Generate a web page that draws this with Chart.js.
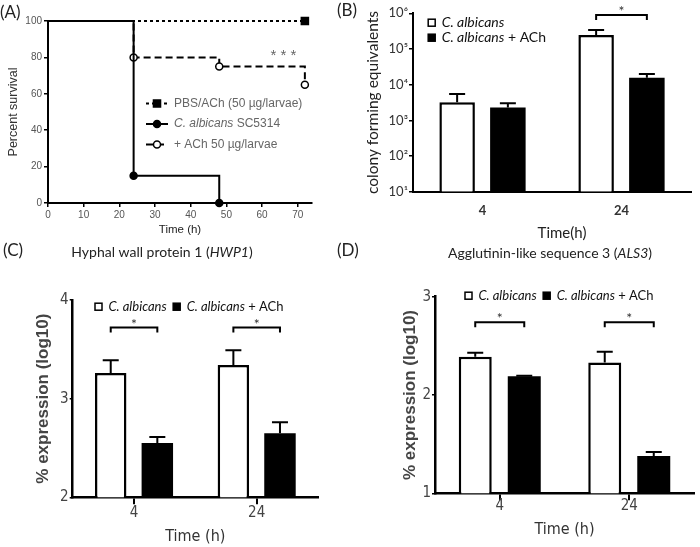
<!DOCTYPE html>
<html>
<head>
<meta charset="utf-8">
<script src="https://cdn.jsdelivr.net/npm/chart.js@4"></script>
<style>
  body { margin: 0; background: #fff; }
  #wrap { position: relative; width: 700px; height: 547px; overflow: hidden; }
  #wrap canvas { position: absolute; }
</style>
</head>
<body>
<div id="wrap">
  <canvas id="survivalChart" width="345" height="250" style="left:0;top:0"></canvas>
  <canvas id="cfeChart" width="370" height="250" style="left:330px;top:0"></canvas>
  <canvas id="hwp1Chart" width="345" height="312" style="left:0;top:235px"></canvas>
  <canvas id="als3Chart" width="370" height="312" style="left:330px;top:235px"></canvas>
</div>
<script>
// (A) survival curves
var pbsTimes = [0, 72];
var pbsSurvival = [100, 100];
var candTimes = [0, 24, 48];
var candSurvival = [100, 15, 0];
var achTimes = [0, 24, 48, 72];
var achSurvival = [100, 80, 75, 65];
var survivalLabels = ['PBS/ACh (50 \u00b5g/larvae)', 'C. albicans SC5314', '+ ACh 50 \u00b5g/larvae'];

// (B)-(D) bars
var timeLabels = ['4', '24'];
var seriesLabels = ['C. albicans', 'C. albicans + ACh'];

var cfeCandida = [3200, 247000];
var cfeCandidaErr = [2300, 93000];
var cfeAch = [2300, 15700];
var cfeAchErr = [700, 4200];
var cfeTicks = [1e1, 1e2, 1e3, 1e4, 1e5, 1e6];

var hwp1Candida = [3.26, 3.34];
var hwp1CandidaErr = [0.13, 0.15];
var hwp1Ach = [2.55, 2.65];
var hwp1AchErr = [0.06, 0.11];

var als3Candida = [2.39, 2.33];
var als3CandidaErr = [0.04, 0.11];
var als3Ach = [2.19, 1.38];
var als3AchErr = [0.005, 0.04];

var sans = "'Liberation Sans', Arial, sans-serif";
var calib = "Lato, 'Open Sans', sans-serif";
var narrow = "'Liberation Sans Narrow', 'DejaVu Sans Condensed', sans-serif";
var sup = ['\u2070', '\u00b9', '\u00b2', '\u00b3', '\u2074', '\u2075', '\u2076'];

function toXY(xs, ys) {
  return xs.map(function(x, i) { return { x: x, y: ys[i] }; });
}

function labelParts(label) {
  var sp = 'C. albicans';
  if (label.indexOf(sp) === 0) return [{ t: sp, italic: true }, { t: label.slice(sp.length) }];
  return [{ t: label }];
}

function drawRich(ctx, parts, x, y, font, color, align) {
  ctx.save();
  ctx.fillStyle = color;
  ctx.textBaseline = 'middle';
  ctx.textAlign = 'left';
  var total = 0;
  parts.forEach(function(p) {
    ctx.font = (p.italic ? 'italic ' : '') + (font.weight || 'normal') + ' ' + font.size + 'px ' + font.family;
    total += ctx.measureText(p.t).width;
  });
  var cx = align === 'center' ? x - total / 2 : (align === 'right' ? x - total : x);
  parts.forEach(function(p) {
    ctx.font = (p.italic ? 'italic ' : '') + (font.weight || 'normal') + ' ' + font.size + 'px ' + font.family;
    ctx.fillText(p.t, cx, y);
    cx += ctx.measureText(p.t).width;
  });
  ctx.restore();
  return cx;
}

// plain text notes: panel letters, titles
function panelText(items) {
  return {
    id: 'panelText',
    afterDraw: function(chart) {
      items.forEach(function(it) {
        drawRich(chart.ctx, it.parts, it.x, it.y, it.font, it.color || '#222', it.align);
      });
    }
  };
}

function errorBars(cap) {
  return {
    id: 'errorBars',
    afterDatasetsDraw: function(chart) {
      var ctx = chart.ctx, yScale = chart.scales.y;
      chart.data.datasets.forEach(function(ds, i) {
        if (!ds.errors) return;
        chart.getDatasetMeta(i).data.forEach(function(bar, j) {
          if (!ds.errors[j]) return;
          var top = yScale.getPixelForValue(ds.data[j] + ds.errors[j]);
          ctx.save();
          ctx.strokeStyle = '#000';
          ctx.lineWidth = 2;
          ctx.beginPath();
          ctx.moveTo(bar.x, bar.y);
          ctx.lineTo(bar.x, top);
          ctx.moveTo(bar.x - cap, top);
          ctx.lineTo(bar.x + cap, top);
          ctx.stroke();
          ctx.restore();
        });
      });
    }
  };
}

function sigBrackets(level, groups) {
  return {
    id: 'sigBrackets',
    afterDatasetsDraw: function(chart) {
      var ctx = chart.ctx;
      var y = chart.scales.y.getPixelForValue(level);
      var a = chart.getDatasetMeta(0).data, b = chart.getDatasetMeta(1).data;
      groups.forEach(function(j) {
        ctx.save();
        ctx.strokeStyle = '#000';
        ctx.lineWidth = 2;
        ctx.beginPath();
        ctx.moveTo(a[j].x, y + 5);
        ctx.lineTo(a[j].x, y);
        ctx.lineTo(b[j].x, y);
        ctx.lineTo(b[j].x, y + 5);
        ctx.stroke();
        ctx.fillStyle = '#333';
        ctx.font = '14px ' + calib;
        ctx.textAlign = 'center';
        ctx.textBaseline = 'alphabetic';
        ctx.fillText('*', (a[j].x + b[j].x) / 2, y + 1);
        ctx.restore();
      });
    }
  };
}

// legend boxes for the bar panels; vertical list or one row
function barLegend(x, y, font, rowGap) {
  return {
    id: 'barLegend',
    afterDraw: function(chart) {
      var ctx = chart.ctx, cx = x, cy = y;
      chart.data.datasets.forEach(function(ds) {
        ctx.save();
        ctx.fillStyle = ds.backgroundColor;
        ctx.fillRect(cx - 3.5, cy - 3.5, 7, 7);
        ctx.strokeStyle = '#000';
        ctx.lineWidth = 1.5;
        ctx.strokeRect(cx - 3.5, cy - 3.5, 7, 7);
        ctx.restore();
        var end = drawRich(ctx, labelParts(ds.label), cx + 10, cy, font, '#111', 'left');
        if (rowGap) cy += rowGap; else cx = end + 10;
      });
    }
  };
}

function survivalLegend(x, y, gap) {
  return {
    id: 'survivalLegend',
    afterDraw: function(chart) {
      var ctx = chart.ctx;
      chart.data.datasets.forEach(function(ds, i) {
        var ly = y + i * gap;
        ctx.save();
        ctx.strokeStyle = '#000';
        ctx.lineWidth = 2;
        ctx.setLineDash(ds.borderDash || []);
        ctx.beginPath();
        ctx.moveTo(x, ly);
        ctx.lineTo(x + 22, ly);
        ctx.stroke();
        ctx.setLineDash([]);
        ctx.fillStyle = ds.pointBackgroundColor;
        ctx.lineWidth = 1.5;
        Chart.helpers.drawPoint(ctx, { pointStyle: ds.pointStyle, radius: ds.pointStyle === 'rect' ? 5 : 3.5, rotation: 0, borderWidth: 1.5 }, x + 11, ly);
        ctx.restore();
        drawRich(ctx, labelParts(ds.label), x + 28, ly, { size: 12, family: sans }, '#666', 'left');
      });
      // significance for the ACh curve
      var sx = chart.scales.x.getPixelForValue(66), sy = chart.scales.y.getPixelForValue(81);
      drawRich(ctx, [{ t: '* * *' }], sx, sy, { size: 15, family: sans }, '#666', 'center');
    }
  };
}

function lineSet(label, data, dash, style, fill) {
  return {
    label: label, data: data, stepped: 'before', clip: false,
    borderColor: '#000', borderWidth: 2, borderDash: dash,
    pointStyle: style, pointBackgroundColor: fill, pointBorderColor: '#000', pointBorderWidth: 1.5,
    pointRadius: function(c) { return c.dataIndex === 0 ? 0 : (style === 'rect' ? 5 : 3.5); }
  };
}

function axisGrid(len) {
  return { drawOnChartArea: false, tickLength: len, color: '#000', lineWidth: 1.5 };
}

new Chart(document.getElementById('survivalChart'), {
  type: 'line',
  data: {
    datasets: [
      lineSet(survivalLabels[0], toXY(pbsTimes, pbsSurvival), [3, 3], 'rect', '#000'),
      lineSet(survivalLabels[1], toXY(candTimes, candSurvival), [], 'circle', '#000'),
      lineSet(survivalLabels[2], toXY(achTimes, achSurvival), [7, 4], 'circle', '#fff')
    ]
  },
  options: {
    responsive: false,
    animation: false,
    layout: { padding: { top: 21, right: 33, bottom: 0, left: 0 } },
    plugins: { legend: { display: false }, tooltip: { enabled: false } },
    scales: {
      x: {
        type: 'linear', min: 0, max: 74,
        ticks: { stepSize: 10, includeBounds: false, font: { family: sans, size: 10 }, color: '#555', padding: 2 },
        grid: axisGrid(4),
        border: { color: '#000', width: 2 },
        title: { display: true, text: 'Time (h)', font: { family: sans, size: 11.5 }, color: '#222', padding: { top: 0, bottom: 13 } },
        afterFit: function(s) { s.height = 47; }
      },
      y: {
        min: 0, max: 100,
        ticks: { stepSize: 20, font: { family: sans, size: 10 }, color: '#555', padding: 2 },
        grid: axisGrid(4),
        border: { color: '#000', width: 2 },
        title: { display: true, text: 'Percent survival', font: { family: sans, size: 12.5 }, color: '#333', padding: { top: 6, bottom: 0 } },
        afterFit: function(s) { s.width = 48; }
      }
    }
  },
  plugins: [
    survivalLegend(146, 103.5, 20.5),
    panelText([{ parts: [{ t: '(A)' }], x: 0, y: 13, font: { size: 17, family: calib } }])
  ]
});

function barSets(a, aErr, b, bErr, catPct, barPct) {
  return [
    { label: seriesLabels[0], data: a, errors: aErr, backgroundColor: '#fff', borderColor: '#000', borderWidth: 2.5,
      categoryPercentage: catPct, barPercentage: barPct },
    { label: seriesLabels[1], data: b, errors: bErr, backgroundColor: '#000', borderColor: '#000', borderWidth: 0,
      categoryPercentage: catPct, barPercentage: barPct }
  ];
}

new Chart(document.getElementById('cfeChart'), {
  type: 'bar',
  data: { labels: timeLabels, datasets: barSets(cfeCandida, cfeCandidaErr, cfeAch, cfeAchErr, 0.73, 0.7) },
  options: {
    responsive: false,
    animation: false,
    layout: { padding: { top: 13.3, right: 9, bottom: 0, left: 0 } },
    plugins: { legend: { display: false }, tooltip: { enabled: false } },
    scales: {
      x: {
        ticks: { font: { family: calib, size: 13, weight: 'bold' }, color: '#333', padding: 3 },
        grid: { display: false },
        border: { color: '#000', width: 2 },
        afterFit: function(s) { s.height = 58.3; }
      },
      y: {
        type: 'logarithmic', min: 10, max: 1e6,
        afterBuildTicks: function(s) { s.ticks = cfeTicks.map(function(v) { return { value: v }; }); },
        ticks: {
          font: { family: calib, size: 13 }, color: '#333', padding: 1,
          callback: function(v) { return '10' + sup[Math.round(Math.log10(v))]; }
        },
        grid: axisGrid(4),
        border: { color: '#000', width: 2 },
        title: { display: true, text: 'colony forming equivalents', font: { family: calib, size: 15.5 }, color: '#222', padding: { top: 33.7, bottom: 0 } },
        afterFit: function(s) { s.width = 83; }
      }
    }
  },
  plugins: [
    errorBars(8),
    sigBrackets(8.9e5, [1]),
    barLegend(101.7, 22.7, { size: 14, family: calib }, 15),
    panelText([
      { parts: [{ t: '(B)' }], x: 7, y: 11, font: { size: 17, family: calib } },
      { parts: [{ t: 'Time(h)' }], x: 232, y: 233, font: { size: 15, family: calib }, align: 'center' }
    ])
  ]
});

function exprOptions(pad, yMin, yMax, yWidth, xHeight, yTitlePad, xTitlePad, xTickPad) {
  return {
    responsive: false,
    animation: false,
    layout: { padding: pad },
    plugins: { legend: { display: false }, tooltip: { enabled: false } },
    scales: {
      x: {
        ticks: { font: { family: narrow, size: 15 }, color: '#444', padding: xTickPad },
        grid: { offset: false, drawOnChartArea: false, tickLength: 7, color: '#000', lineWidth: 2 },
        border: { color: '#000', width: 2.5 },
        title: { display: true, text: 'Time (h)', font: { family: narrow, size: 16 }, color: '#333', padding: { top: 0, bottom: xTitlePad } },
        afterFit: function(s) { s.height = xHeight; }
      },
      y: {
        min: yMin, max: yMax,
        ticks: { stepSize: 1, font: { family: narrow, size: 15 }, color: '#444', padding: 1 },
        grid: axisGrid(3),
        border: { color: '#000', width: 2.5 },
        title: { display: true, text: '% expression (log10)', font: { family: sans, size: 17, weight: 'bold' }, color: '#444', padding: { top: yTitlePad, bottom: 0 } },
        afterFit: function(s) { s.width = yWidth; }
      }
    }
  };
}

new Chart(document.getElementById('hwp1Chart'), {
  type: 'bar',
  data: { labels: timeLabels, datasets: barSets(hwp1Candida, hwp1CandidaErr, hwp1Ach, hwp1AchErr, 0.76, 0.675) },
  options: exprOptions({ top: 65, right: 27, bottom: 0, left: 0 }, 2, 4, 72.7, 49.7, 33.1, 0.4, 0),
  plugins: [
    errorBars(8),
    sigBrackets(3.72, [0, 1]),
    barLegend(98.5, 71.7, { size: 13, family: calib }, 0),
    panelText([
      { parts: [{ t: '(C)' }], x: 3, y: 16, font: { size: 17, family: calib } },
      { parts: [{ t: 'Hyphal wall protein 1 (' }, { t: 'HWP1', italic: true }, { t: ')' }], x: 162, y: 17, font: { size: 14, family: calib }, align: 'center' }
    ])
  ]
});

new Chart(document.getElementById('als3Chart'), {
  type: 'bar',
  data: { labels: timeLabels, datasets: barSets(als3Candida, als3CandidaErr, als3Ach, als3AchErr, 0.757, 0.673) },
  options: exprOptions({ top: 61.7, right: 6, bottom: 0, left: 0 }, 1, 3, 105, 53.7, 69.8, 7.4, -3),
  plugins: [
    errorBars(8),
    sigBrackets(2.74, [0, 1]),
    barLegend(138.5, 60.7, { size: 13, family: calib }, 0),
    panelText([
      { parts: [{ t: '(D)' }], x: 7, y: 16, font: { size: 17, family: calib } },
      { parts: [{ t: 'Agglutinin-like sequence 3 (' }, { t: 'ALS3', italic: true }, { t: ')' }], x: 220, y: 18, font: { size: 14, family: calib }, align: 'center' }
    ])
  ]
});
</script>
</body>
</html>
